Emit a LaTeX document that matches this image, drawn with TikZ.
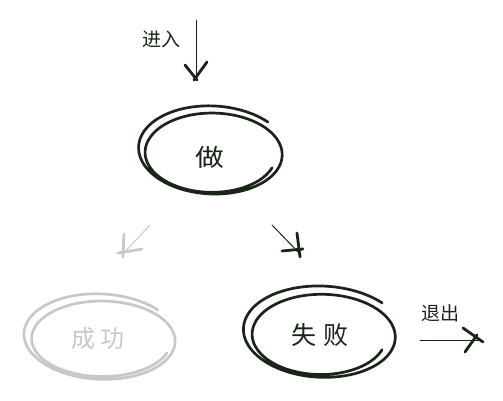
\documentclass[tikz,border=0pt]{standalone}
\usepackage{fontspec}
\newfontfamily\cjk{Noto Sans CJK SC}
\definecolor{ink}{HTML}{1A2418}
\definecolor{faint}{HTML}{C8C8C8}
% #1,#2 centre 1; #3,#4 radii 1; #5,#6 centre 2; #7,#8 radii 2; #9 tilt of the first loop
\newcommand\handloop[9]{%
  plot[smooth,variable=\t,domain=-45:-700,samples=170]
  ({#1+(#5-#1)*(\t+45)/(-655)
     +(#3+(#7-#3)*(\t+45)/(-655))*cos(\t)*cos(#9*(1-(\t+45)/(-655)))
     -(#4+(#8-#4)*(\t+45)/(-655))*sin(\t)*sin(#9*(1-(\t+45)/(-655)))},
   {#2+(#6-#2)*(\t+45)/(-655)
     +(#3+(#7-#3)*(\t+45)/(-655))*cos(\t)*sin(#9*(1-(\t+45)/(-655)))
     +(#4+(#8-#4)*(\t+45)/(-655))*sin(\t)*cos(#9*(1-(\t+45)/(-655)))})}
\tikzset{
  loopline/.style={line width=2.7pt,line cap=round,line join=round},
  shaft/.style={line width=1pt,line cap=round},
  headline/.style={line width=2.8pt,line cap=round},
  label/.style={font=\cjk\fontsize{19}{19}\selectfont,inner sep=0pt},
  stateText/.style={font=\cjk\fontsize{24}{24}\selectfont,inner sep=0pt}
}
\begin{document}
\begin{tikzpicture}[x=1pt,y=-1pt]
\useasboundingbox (0,0) rectangle (503,400);
% state loops
\draw[loopline,ink] \handloop{212}{150}{76}{45}{212}{155}{64}{37}{4};
\draw[loopline,faint] \handloop{100}{337}{79}{44}{103}{341}{68}{35}{4};
\draw[loopline,ink] \handloop{322}{332}{82}{47}{321}{337}{65}{37}{4};
% state texts
\node[stateText,text=ink,xscale=1.2] (do) at (210,157) {做};
\node[stateText,text=faint] (succ) at (98,338) {成\hspace{5pt}功};
\node[stateText,text=ink,font=\cjk\fontsize{25}{25}\selectfont] (fail) at (320,335) {失\hspace{7pt}败};
% labels
\node[label,text=ink] (enterlbl) at (161,39) {进入};
\node[label,text=ink] (exitlbl) at (440,313) {退出};
% entry arrow
\coordinate (in0) at (196,20);
\coordinate (in1) at (196,80);
\draw[shaft,ink] (in0) -- (in1);
\draw[headline,ink] ([shift={(-11,-15)}]in1) -- ([shift={(1,0)}]in1);
\draw[headline,ink] ([shift={(11,-18)}]in1) -- ([shift={(-2,0)}]in1);
% arrow to failure
\coordinate (f0) at (272,225);
\coordinate (f1) at (301,255);
\draw[shaft,ink] (f0) -- (f1);
\draw[headline,ink] ([shift={(-19,-4)}]f1) -- ([shift={(2,-6)}]f1);
\draw[headline,ink] ([shift={(-4,-22)}]f1) -- ([shift={(-1,2)}]f1);
% arrow to success
\coordinate (s0) at (150,225);
\coordinate (s1) at (122,255);
\draw[shaft,faint] (s0) -- (s1);
\draw[headline,faint] ([shift={(2,-21)}]s1) -- ([shift={(1,2)}]s1);
\draw[headline,faint] ([shift={(-4,-2)}]s1) -- ([shift={(20,-6)}]s1);
% exit arrow
\coordinate (e0) at (420,340);
\coordinate (e1) at (482,340);
\draw[shaft,ink] (e0) -- (e1);
\draw[headline,ink] ([shift={(-19,-12)}]e1) -- ([shift={(1,2)}]e1);
\draw[headline,ink] ([shift={(-17,12)}]e1) -- ([shift={(-5,-5)}]e1);
\end{tikzpicture}
\end{document}
